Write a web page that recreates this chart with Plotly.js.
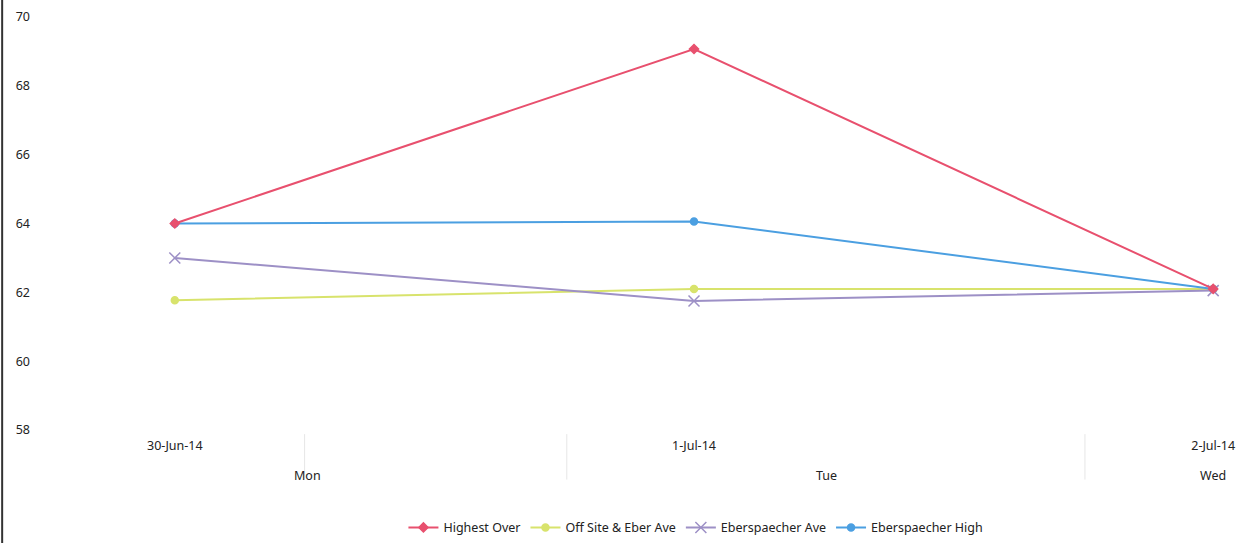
<!DOCTYPE html>
<html>
<head>
<meta charset="utf-8">
<script src="https://cdn.plot.ly/plotly-3.0.1.min.js"></script>
<style>html,body{margin:0;padding:0;background:#fff;}#chart{width:1245px;height:543px;}</style>
</head>
<body>
<div id="chart"></div>
<script>
const dates = ["30-Jun-14", "1-Jul-14", "2-Jul-14"];
const days = ["Mon", "Tue", "Wed"];
const highestOver = [64.0, 69.07, 62.1];
const offSiteEberAve = [61.77, 62.1, 62.1];
const eberAve = [63.0, 61.75, 62.05];
const eberHigh = [64.0, 64.06, 62.1];

const xs = dates.map((d, i) => i);
const font = {family: "Noto Sans, Open Sans, sans-serif", size: 12.5, color: "#222"};

const traces = [
  {name: "Highest Over", y: highestOver, color: "#e8506e", symbol: "diamond", size: 7},
  {name: "Off Site & Eber Ave", y: offSiteEberAve, color: "#d8e36c", symbol: "circle", size: 7},
  {name: "Eberspaecher Ave", y: eberAve, color: "#9d90c6", symbol: "x-thin-open", size: 11},
  {name: "Eberspaecher High", y: eberHigh, color: "#4b9fe1", symbol: "circle", size: 7}
].map((s, i) => ({
  type: "scatter", mode: "lines+markers", x: xs, y: s.y, name: s.name, legendrank: i + 1,
  line: {color: s.color, width: 2},
  marker: {color: s.color, symbol: s.symbol, size: s.size, line: {color: s.color, width: 1.5}}
}));
// draw order: pink on top
const data = [traces[1], traces[2], traces[3], traces[0]];

const sepX = [0.25, 0.755, 1.753];
const shapes = sepX.map(v => ({
  type: "line", xref: "x", yref: "paper", x0: v, x1: v, y0: -0.01, y1: -0.12,
  line: {color: "#e6e6e6", width: 1}
}));
shapes.push({type: "line", xref: "paper", yref: "paper", x0: -0.036, x1: -0.036, y0: 1.05, y1: -0.28,
  line: {color: "#333", width: 2}});

const annotations = days.map((d, i) => ({
  xref: "x", yref: "paper", x: [0.255, 1.255, 2.0][i], y: -0.085, text: d,
  showarrow: false, xanchor: "center", yanchor: "top", font: font
}));

const layout = {
  width: 1245, height: 543,
  margin: {l: 45, r: 10, t: 17, b: 113, autoexpand: false},
  paper_bgcolor: "#fff", plot_bgcolor: "#fff",
  showlegend: true,
  legend: {orientation: "h", x: 0.547, xanchor: "center", yref: "container", y: 0.028, yanchor: "middle",
    font: font, traceorder: "normal", itemwidth: 30},
  xaxis: {range: [-0.25, 2.042], tickvals: xs, ticktext: dates, showgrid: false, zeroline: false,
    showline: false, ticks: "", tickfont: font, ticklabelstandoff: 6},
  yaxis: {range: [58, 70], dtick: 2, showgrid: false, zeroline: false, showline: false,
    ticks: "", tickfont: font, ticklabelstandoff: 14},
  shapes: shapes,
  annotations: annotations
};

Plotly.newPlot("chart", data, layout, {displayModeBar: false});
</script>
</body>
</html>
